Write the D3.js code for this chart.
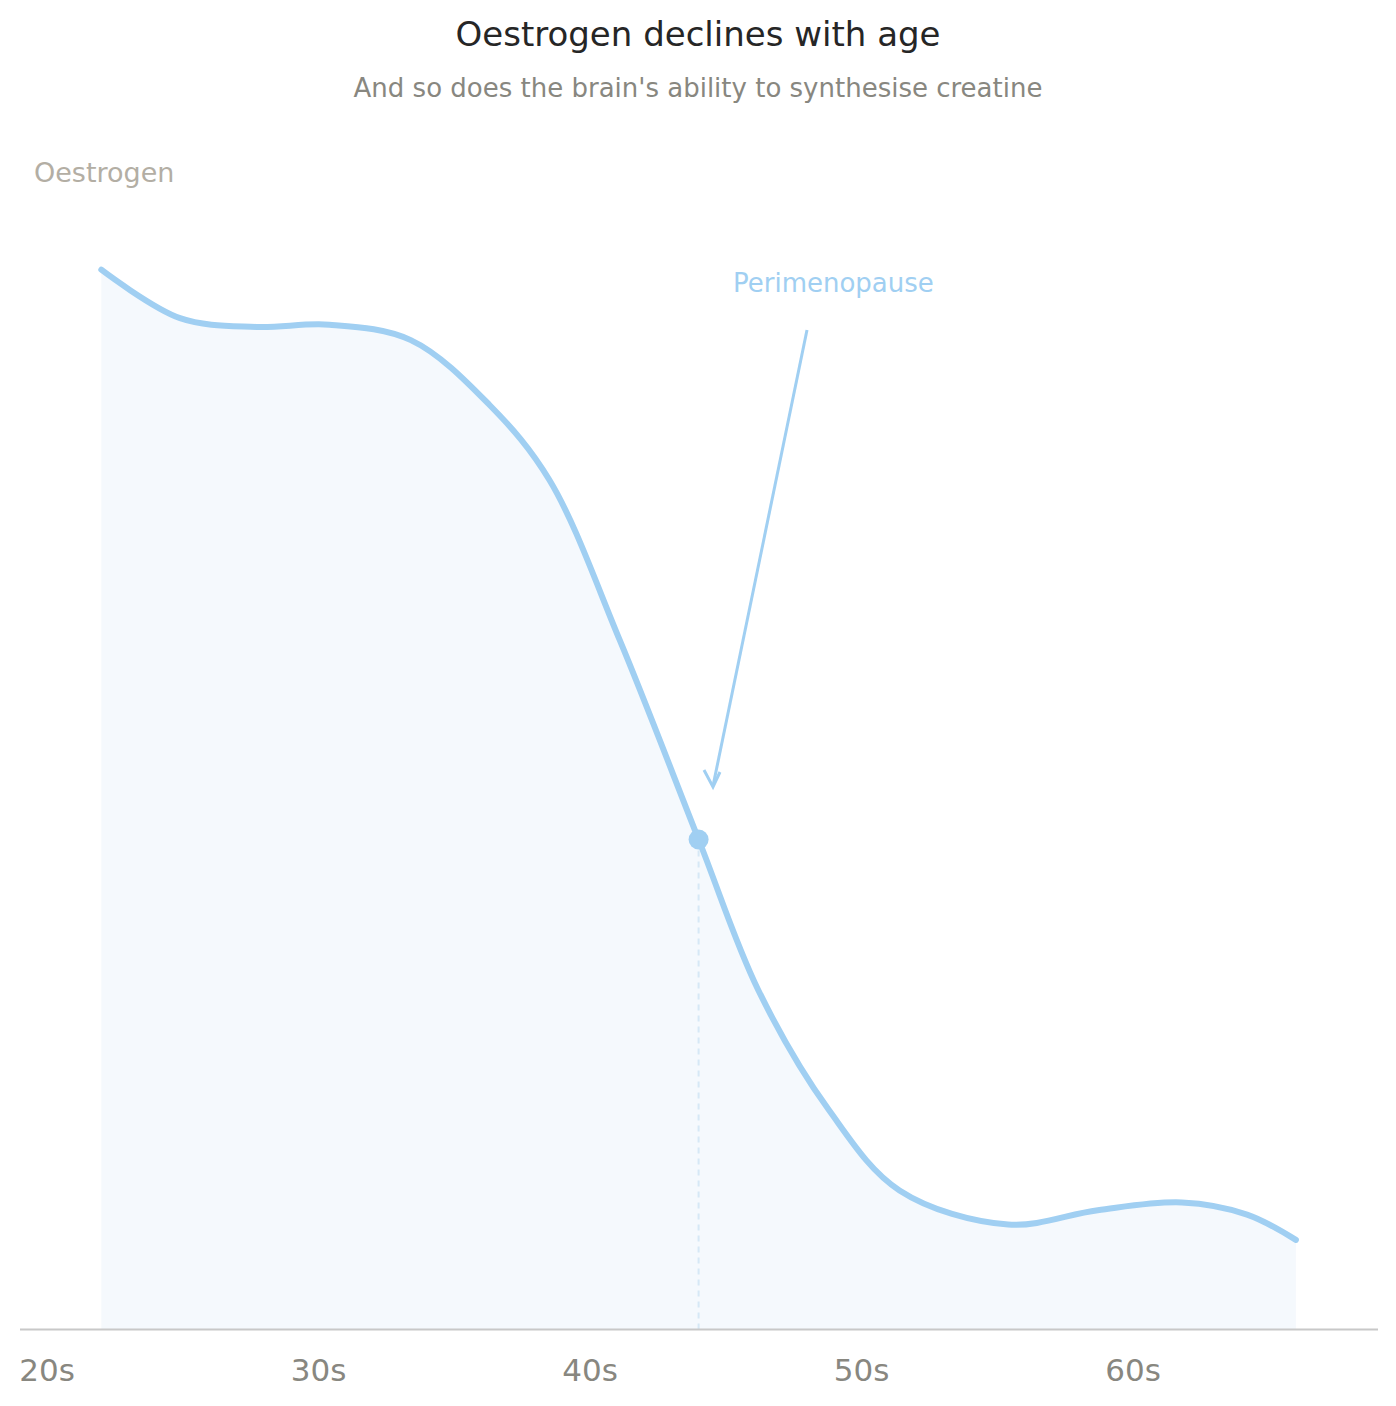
<!DOCTYPE html>
<html><head><meta charset="utf-8">
<script src="https://cdn.jsdelivr.net/npm/d3@7"></script>
<style>body{margin:0;background:#fff}svg{font-family:"DejaVu Sans",sans-serif}</style>
</head><body><svg id="c" width="1396" height="1406"></svg>
<script>
const ages = [22,24.9,27.7,30.4,33.4,36.3,38.5,41.1,44,46.2,48.8,51.4,55.4,58.7,61.8,64.2,66];
const oestrogen = [96.3,91.9,91.1,91.3,89.9,84,77.2,62.6,44.5,30.8,19.9,12.6,9.5,10.8,11.5,10.4,8.1];
const tickAges = [20,30,40,50,60];
const tickLabels = ["20s","30s","40s","50s","60s"];
const markerAge = 44, markerValue = 44.5;

const svg = d3.select("#c");
const x = d3.scaleLinear().domain([20,70]).range([47,1404.5]);
const y = d3.scaleLinear().domain([0,100]).range([1329,229]);
const data = ages.map((a,i)=>({a,v:oestrogen[i]}));
const curve = d3.curveCatmullRom.alpha(0.5);

svg.append("path").datum(data).attr("fill","#f5f9fd")
 .attr("d",d3.area().x(d=>x(d.a)).y0(y(0)).y1(d=>y(d.v)).curve(curve));
svg.append("line").attr("x1",x(markerAge)).attr("x2",x(markerAge)).attr("y1",y(markerValue)).attr("y2",y(0))
 .attr("stroke","#d6e8f6").attr("stroke-width",2).attr("stroke-dasharray","6,5");
svg.append("path").datum(data).attr("fill","none").attr("stroke","#a0cff2").attr("stroke-width",6).attr("stroke-linecap","round")
 .attr("d",d3.line().x(d=>x(d.a)).y(d=>y(d.v)).curve(curve));
svg.append("circle").attr("cx",x(markerAge)).attr("cy",y(markerValue)).attr("r",10).attr("fill","#a0cff2");

svg.append("line").attr("x1",20).attr("x2",1378).attr("y1",1329.5).attr("y2",1329.5).attr("stroke","#c8c8c8").attr("stroke-width",2);
svg.selectAll(".t").data(tickAges).join("text").attr("x",d=>x(d)).attr("y",1381).attr("text-anchor","middle")
 .attr("font-size",31).attr("fill","#888780").text((d,i)=>tickLabels[i]);

svg.append("text").attr("x",698).attr("y",46).attr("text-anchor","middle").attr("font-size",34).attr("fill","#262626").text("Oestrogen declines with age");
svg.append("text").attr("x",698).attr("y",97).attr("text-anchor","middle").attr("font-size",26).attr("fill","#888780").text("And so does the brain's ability to synthesise creatine");
svg.append("text").attr("x",34).attr("y",182).attr("font-size",27).attr("fill","#b3aea4").text("Oestrogen");

svg.append("text").attr("x",733).attr("y",292).attr("font-size",26).attr("fill","#a0cff2").text("Perimenopause");
svg.append("line").attr("x1",807).attr("y1",330).attr("x2",713).attr("y2",786).attr("stroke","#a0cff2").attr("stroke-width",3);
svg.append("path").attr("d","M704,770 L713,787 L720,772").attr("fill","none").attr("stroke","#a0cff2").attr("stroke-width",3);
</script></body></html>
